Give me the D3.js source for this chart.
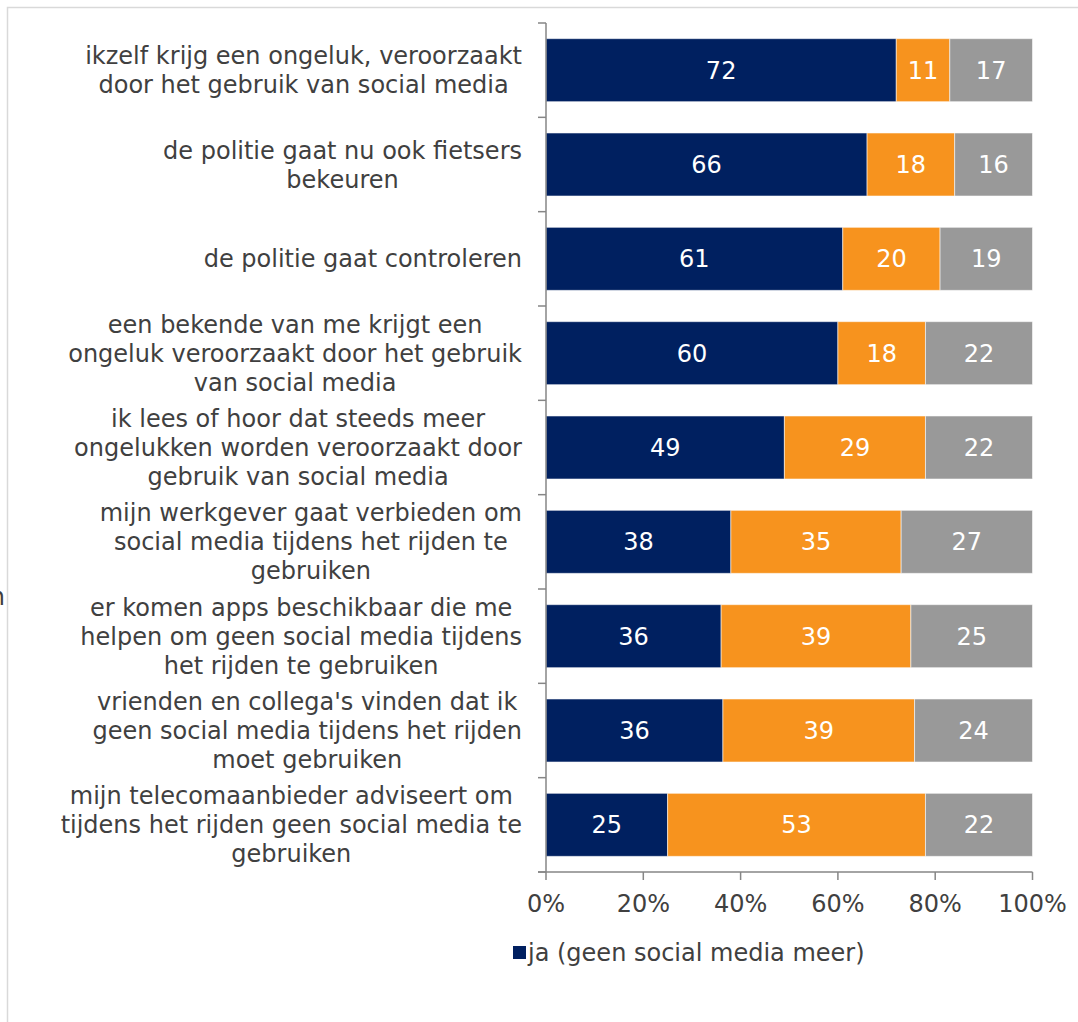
<!DOCTYPE html>
<html>
<head>
<meta charset="utf-8">
<script src="https://cdn.jsdelivr.net/npm/d3@7"></script>
<style>
  html, body { margin: 0; padding: 0; background: #fff; }
  svg { display: block; font-family: "DejaVu Sans", Verdana, sans-serif; }
</style>
</head>
<body>
<svg id="chart" width="1078" height="1022"></svg>
<script>
// Category labels, pre-wrapped into lines
const categories = [
  ["ikzelf krijg een ongeluk, veroorzaakt", "door het gebruik van social media"],
  ["de politie gaat nu ook fietsers", "bekeuren"],
  ["de politie gaat controleren"],
  ["een bekende van me krijgt een", "ongeluk veroorzaakt door het gebruik", "van social media"],
  ["ik lees of hoor dat steeds meer", "ongelukken worden veroorzaakt door", "gebruik van social media"],
  ["mijn werkgever gaat verbieden om", "social media tijdens het rijden te", "gebruiken"],
  ["er komen apps beschikbaar die me", "helpen om geen social media tijdens", "het rijden te gebruiken"],
  ["vrienden en collega's vinden dat ik", "geen social media tijdens het rijden", "moet gebruiken"],
  ["mijn telecomaanbieder adviseert om", "tijdens het rijden geen social media te", "gebruiken"]
];

// Series values (percentages)
const seriesNames = ["ja (geen social media meer)", "misschien", "nee"];
const ja        = [72, 66, 61, 60, 49, 38, 36, 36, 25];
const misschien = [11, 18, 20, 18, 29, 35, 39, 39, 53];
const nee       = [17, 16, 19, 22, 22, 27, 25, 24, 22];
const seriesColors = ["#002060", "#F7931E", "#999999"];

const xTicks = [0, 0.2, 0.4, 0.6, 0.8, 1];

const svg = d3.select("#chart");
const W = 1078, H = 1022;

// outer chart border (left and top edges visible)
svg.append("path")
  .attr("d", `M7.5,${H} V7.5 H${W}`)
  .attr("fill", "none")
  .attr("stroke", "#d9d9d9")
  .attr("stroke-width", 1.5);

// clipped axis title fragment at the far left
svg.append("text")
  .attr("x", 5).attr("y", 605)
  .attr("text-anchor", "end")
  .attr("font-size", 24)
  .attr("fill", "#404040")
  .text("n");

const plot = { left: 546, right: 1032.5, top: 23, bottom: 872 };

const x = d3.scaleLinear().domain([0, 1]).range([plot.left, plot.right]);
const y = d3.scaleBand()
  .domain(d3.range(categories.length))
  .range([plot.top, plot.bottom])
  .paddingInner(0.332)
  .paddingOuter(0.166);

// build 100%-stacked table
const rows = categories.map((c, i) => {
  const vals = [ja[i], misschien[i], nee[i]];
  const total = d3.sum(vals);
  const r = { idx: i };
  vals.forEach((v, k) => { r["s" + k] = v / total; r["v" + k] = v; });
  return r;
});
const stack = d3.stack().keys(["s0", "s1", "s2"]);
const stacked = stack(rows);

const g = svg.append("g");
stacked.forEach((layer, k) => {
  const lg = g.append("g").attr("fill", seriesColors[k]);
  lg.selectAll("rect")
    .data(layer)
    .join("rect")
    .attr("x", d => x(d[0]))
    .attr("y", d => y(d.data.idx))
    .attr("width", d => x(d[1]) - x(d[0]))
    .attr("height", y.bandwidth())
    .attr("stroke", "rgba(255,255,255,0.55)")
    .attr("stroke-width", 1);
  lg.selectAll("text")
    .data(layer)
    .join("text")
    .attr("x", d => (x(d[0]) + x(d[1])) / 2)
    .attr("y", d => y(d.data.idx) + y.bandwidth() / 2)
    .attr("dy", "0.36em")
    .attr("text-anchor", "middle")
    .attr("font-size", 24)
    .attr("fill", "#ffffff")
    .text(d => d.data["v" + k]);
});

const axisColor = "#868686";

// y axis: line with ticks at category boundaries
const yAxis = svg.append("g");
yAxis.append("line")
  .attr("x1", plot.left).attr("x2", plot.left)
  .attr("y1", plot.top).attr("y2", plot.bottom)
  .attr("stroke", axisColor).attr("stroke-width", 1.5);
const step = y.step();
yAxis.selectAll("line.tick")
  .data(d3.range(categories.length + 1))
  .join("line")
  .attr("class", "tick")
  .attr("x1", plot.left - 8).attr("x2", plot.left)
  .attr("y1", i => plot.top + i * step)
  .attr("y2", i => plot.top + i * step)
  .attr("stroke", axisColor).attr("stroke-width", 1.5);

// category labels, centered per block, right edge near axis
const labelRight = 522;
const lineH = 29;
categories.forEach((lines, i) => {
  const t = svg.append("text")
    .attr("font-size", 24)
    .attr("fill", "#404040")
    .attr("text-anchor", "middle");
  const cy = y(i) + y.bandwidth() / 2;
  const n = lines.length;
  const spans = lines.map((ln, j) => t.append("tspan")
    .attr("y", cy + (j - (n - 1) / 2) * lineH)
    .attr("dy", "0.36em")
    .text(ln));
  const maxW = d3.max(spans, s => s.node().getComputedTextLength());
  spans.forEach(s => s.attr("x", labelRight - maxW / 2));
});

// x axis
const xAxis = svg.append("g");
xAxis.append("line")
  .attr("x1", plot.left - 8).attr("x2", plot.right)
  .attr("y1", plot.bottom).attr("y2", plot.bottom)
  .attr("stroke", axisColor).attr("stroke-width", 1.5);
xAxis.selectAll("line.tick")
  .data(xTicks)
  .join("line")
  .attr("class", "tick")
  .attr("x1", d => x(d)).attr("x2", d => x(d))
  .attr("y1", plot.bottom).attr("y2", plot.bottom + 8)
  .attr("stroke", axisColor).attr("stroke-width", 1.5);
xAxis.selectAll("text")
  .data(xTicks)
  .join("text")
  .attr("x", d => x(d))
  .attr("y", 912)
  .attr("text-anchor", "middle")
  .attr("font-size", 24)
  .attr("fill", "#404040")
  .text(d3.format(".0%"));

// legend (first entry)
const legend = svg.append("g").attr("transform", "translate(513,946)");
legend.append("rect")
  .attr("width", 13).attr("height", 13)
  .attr("fill", seriesColors[0]);
legend.append("text")
  .attr("x", 15).attr("y", 6.5)
  .attr("dy", "0.36em")
  .attr("font-size", 24)
  .attr("fill", "#404040")
  .text(seriesNames[0]);
</script>
</body>
</html>
